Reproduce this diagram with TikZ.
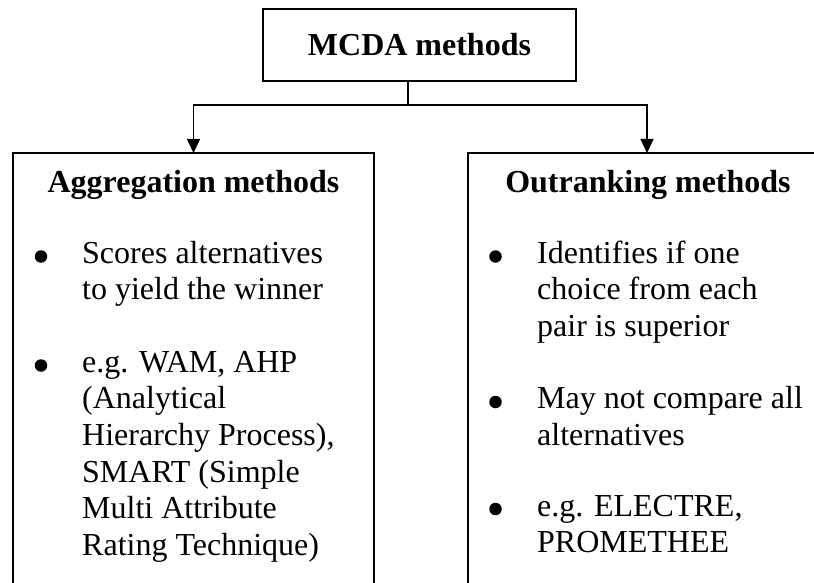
\documentclass[tikz,border=0pt]{standalone}
\usepackage{fontspec}
\setmainfont{Liberation Serif}
\usetikzlibrary{arrows.meta}
\begin{document}
\begin{tikzpicture}[x=1pt,y=-1pt,
  box/.style={draw, line width=1.4pt, inner sep=0pt, outer sep=0pt},
  txt/.style={font=\fontsize{32}{36.6}\selectfont, inner sep=0pt},
  head/.style={txt, font=\fontsize{32}{36.6}\selectfont\bfseries, anchor=base},
  item/.style={txt, align=left, anchor=north west},
  dot/.style={circle, fill=black, inner sep=0pt, minimum size=12.5pt},
  link/.style={line width=1.4pt},
  tip/.style={link, -{Triangle[width=13pt,length=14pt]}}]
\useasboundingbox (0,0) rectangle (814,583);
\clip (0,0) rectangle (814,583);

% root box
\node[box, minimum width=313pt, minimum height=72pt,
      font=\fontsize{32}{36.6}\selectfont\bfseries] (root) at (419.5,45) {MCDA methods};

% the two method families (they run past the bottom edge)
\node[box, minimum width=361pt, minimum height=470pt, anchor=north west] (agg) at (13,153) {};
\node[box, minimum width=358pt, minimum height=470pt, anchor=north west] (out) at (468,153) {};

% connectors
\coordinate (j) at (408,105);
\draw[link] (root.south -| j) -- (j);
\draw[tip] (j) -| (agg.north);
\draw[tip] (j) -| (out.north);

% aggregation methods
\node[head] (aggh) at (193.5,193) {Aggregation methods};
\node[dot] (ab1) at (41,256.5) {};
\node[item] (ai1) at (82,237.4) {\strut Scores alternatives\\to yield the winner};
\node[dot] (ab2) at (41,365.5) {};
\node[item] (ai2) at (82,346.4) {\strut e.g. WAM, AHP\\(Analytical\\Hierarchy Process),\\SMART (Simple\\Multi Attribute\\Rating Technique)};

% outranking methods
\node[head] (outh) at (648,193) {Outranking methods};
\node[dot] (ob1) at (495.5,256.5) {};
\node[item] (oi1) at (537,237.4) {\strut Identifies if one\\choice from each\\pair is superior};
\node[dot] (ob2) at (495.5,402) {};
\node[item] (oi2) at (537,382.9) {\strut May not compare all\\alternatives};
\node[dot] (ob3) at (495.5,509) {};
\node[item] (oi3) at (537,490.4) {\strut e.g. ELECTRE,\\PROMETHEE};
\end{tikzpicture}
\end{document}
